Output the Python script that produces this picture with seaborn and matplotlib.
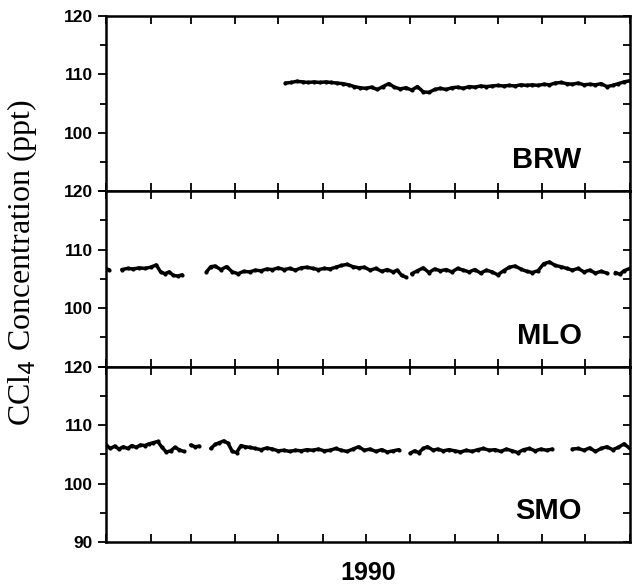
import numpy as np
import pandas as pd
import matplotlib
matplotlib.use("Agg")
import matplotlib.pyplot as plt
import seaborn as sns

nan = np.nan

stations = ["BRW", "MLO", "SMO"]
year_label = "1990"
ylabel = "CCl$_4$ Concentration (ppt)"
month_starts = [0, 31, 59, 90, 120, 151, 181, 212, 243, 273, 304, 334, 365]

# --- BRW (day of year, ppt); NaN marks a data gap
brw_day = [125, 129, 133, 137, 141, 145, 149, 153, 157, 161, 165, 169, 173, 177,
           181, 185, 189, 193, 197, 201, 205, 209, 213, 217, 221, 225, 229, 233,
           237, 241, 245, 249, 253, 257, 261, 265, 269, 273, 277, 281, 285, 289,
           293, 297, 301, 305, 309, 313, 317, 321, 325, 329, 333, 337, 341, 345,
           349, 353, 357, 361, 365]
brw_ppt = [108.5, 108.6, 108.8, 108.7, 108.6, 108.7, 108.6, 108.7, 108.6, 108.5,
           108.4, 108.2, 107.9, 107.7, 107.6, 107.8, 107.4, 107.9, 108.4, 107.8,
           107.5, 107.7, 107.3, 107.9, 107.0, 106.9, 107.4, 107.6, 107.4, 107.7,
           107.8, 107.6, 107.9, 107.8, 108.0, 107.9, 108.0, 108.1, 108.0, 108.1,
           108.0, 108.2, 108.1, 108.2, 108.1, 108.3, 108.2, 108.5, 108.6, 108.4,
           108.3, 108.5, 108.2, 108.3, 108.2, 108.4, 107.9, 108.1, 108.4, 108.7,
           108.9]

# --- MLO
mlo_day = [0, 2, 6, 11, 15, 19, 23, 27, 31, 35, 38, 41, 44, 47, 50, 53, 60,
           70, 73, 76, 80, 84, 88, 92, 96, 100, 104, 108, 112, 116, 120, 124,
           128, 132, 136, 140, 144, 148, 152, 156, 160, 164, 168, 172, 176, 180,
           184, 188, 192, 196, 200, 203, 206, 209, 211, 213, 217, 221, 225, 229,
           233, 237, 241, 245, 249, 253, 257, 261, 265, 269, 273, 277, 281, 285,
           289, 293, 297, 301, 305, 309, 313, 317, 321, 325, 329, 333, 337, 341,
           345, 349, 352, 355, 358, 361, 365]
mlo_ppt = [106.7, 106.6, nan, 106.6, 106.8, 106.7, 106.9, 106.8, 107.0, 107.4,
           106.2, 105.9, 106.2, 105.6, 105.5, 105.7, nan,
           106.2, 107.1, 107.2, 106.6, 107.1, 106.2, 105.9, 106.3, 106.2, 106.5,
           106.4, 106.7, 106.6, 106.9, 106.6, 106.8, 106.5, 106.9, 107.0, 106.8,
           106.6, 106.8, 106.7, 107.0, 107.3, 107.5, 107.1, 106.9, 107.0, 106.5,
           106.8, 106.3, 106.6, 106.2, 106.5, 105.6, 105.3, nan, 105.9, 106.4,
           106.9, 106.1, 106.7, 106.4, 106.6, 106.2, 106.8, 106.5, 106.2, 106.6,
           106.0, 106.5, 106.2, 105.7, 106.4, 107.0, 107.2, 106.7, 106.3, 106.1,
           106.4, 107.6, 107.9, 107.3, 107.1, 106.8, 106.5, 106.8, 106.2, 106.5,
           106.0, 106.3, 106.0, nan, 106.1, 105.8, 106.4, 106.8]

# --- SMO
smo_day = [0, 3, 6, 9, 12, 15, 18, 21, 24, 27, 30, 33, 36, 39, 42, 45, 48, 51,
           54, 57, 59, 62, 65, 69, 73, 76, 79, 82, 85, 88, 91, 94, 97, 100, 104,
           108, 112, 116, 120, 124, 128, 132, 136, 140, 144, 148, 152, 156, 160,
           164, 168, 172, 176, 180, 184, 188, 192, 196, 200, 204, 208, 212, 215,
           218, 221, 224, 228, 231, 235, 239, 243, 247, 251, 255, 259, 263, 267,
           271, 275, 279, 283, 287, 291, 295, 299, 303, 307, 311, 318, 325, 329,
           333, 337, 341, 345, 349, 353, 357, 361, 365]
smo_ppt = [106.6, 106.0, 106.4, 105.9, 106.3, 106.0, 106.5, 106.2, 106.6, 106.5,
           106.8, 107.0, 107.2, 106.2, 105.4, 105.6, 106.2, 105.8, 105.5, nan,
           106.6, 106.3, 106.4, nan, 106.0, 106.7, 107.0, 107.3, 106.9, 105.5,
           105.3, 106.5, 106.3, 106.2, 106.0, 105.8, 106.1, 105.9, 105.6, 105.7,
           105.5, 105.7, 105.6, 105.8, 105.7, 105.9, 105.6, 105.7, 106.0, 105.7,
           105.5, 105.9, 106.3, 105.7, 105.9, 105.5, 105.8, 105.4, 105.6, 105.8,
           nan, 105.2, 105.6, 105.3, 106.0, 106.3, 105.7, 105.9, 105.6, 105.8,
           105.6, 105.4, 105.7, 105.5, 105.8, 106.0, 105.7, 105.8, 105.5, 105.9,
           105.6, 105.3, 105.8, 106.0, 105.6, 105.9, 105.7, 105.9, nan, 105.9,
           106.0, 105.7, 106.1, 105.5, 106.0, 106.3, 105.8, 106.2, 106.8, 106.0]

series = {"BRW": (brw_day, brw_ppt), "MLO": (mlo_day, mlo_ppt), "SMO": (smo_day, smo_ppt)}

sns.set_style("ticks")
plt.rcParams["font.family"] = ["Liberation Sans", "DejaVu Sans"]
for k in ["text.color", "axes.labelcolor", "xtick.color", "ytick.color", "axes.edgecolor"]:
    plt.rcParams[k] = "black"

fig, axes = plt.subplots(3, 1, sharex=True, figsize=(6.33, 5.86), dpi=100)
fig.subplots_adjust(left=0.1675, right=0.995, top=0.973, bottom=0.075, hspace=0)

for i, (ax, name) in enumerate(zip(axes, stations)):
    d, v = series[name]
    df = pd.DataFrame({"day": d, "ppt": v})
    df["seg"] = df["ppt"].isna().cumsum()
    df = df.dropna()
    sns.lineplot(data=df, x="day", y="ppt", units="seg", estimator=None,
                 sort=False, color="black", lw=2.5, marker="o", markersize=3,
                 markeredgewidth=0, ax=ax, legend=False)
    ax.set_xlim(0, 365)
    ax.set_ylim(90, 120)
    ax.set_xlabel("")
    ax.set_ylabel("")
    ax.set_yticks([90, 100, 110, 120])
    ax.set_yticks([95, 105, 115], minor=True)
    if i < 2:
        ax.set_yticklabels(["", "100", "110", "120"])
    else:
        ax.set_yticklabels(["90", "100", "110", "120"])
    ax.set_xticks(month_starts)
    ax.tick_params(axis="x", which="major", direction="in", top=True, bottom=True,
                   length=6, width=1.3, labelbottom=False)
    ax.tick_params(axis="y", which="both", left=True, right=False, direction="out",
                   width=1.3)
    ax.tick_params(axis="y", which="major", length=6, labelsize=12.5)
    ax.tick_params(axis="y", which="minor", length=4)
    for lab in ax.get_yticklabels():
        lab.set_fontweight("bold")
    # right axis inward ticks
    axr = ax.secondary_yaxis("right")
    axr.set_yticks([90, 100, 110, 120])
    axr.set_yticks([95, 105, 115], minor=True)
    axr.tick_params(which="both", direction="in", length=5, width=1.3,
                    labelright=False)
    axr.spines["right"].set_visible(False)
    for s in ax.spines.values():
        s.set_linewidth(1.8)
        s.set_color("black")
    ax.text(0.908, 0.13, name, transform=ax.transAxes, ha="right", va="baseline",
            fontsize=21, fontweight="bold")

axes[-1].set_xlabel(year_label, fontsize=18, fontweight="bold", labelpad=14)

fig.text(0.035, 0.553, ylabel, rotation=90, ha="center", va="center",
         fontsize=23, family=["Liberation Serif", "DejaVu Serif"])

fig.savefig("out.png", dpi=100, facecolor="white")
